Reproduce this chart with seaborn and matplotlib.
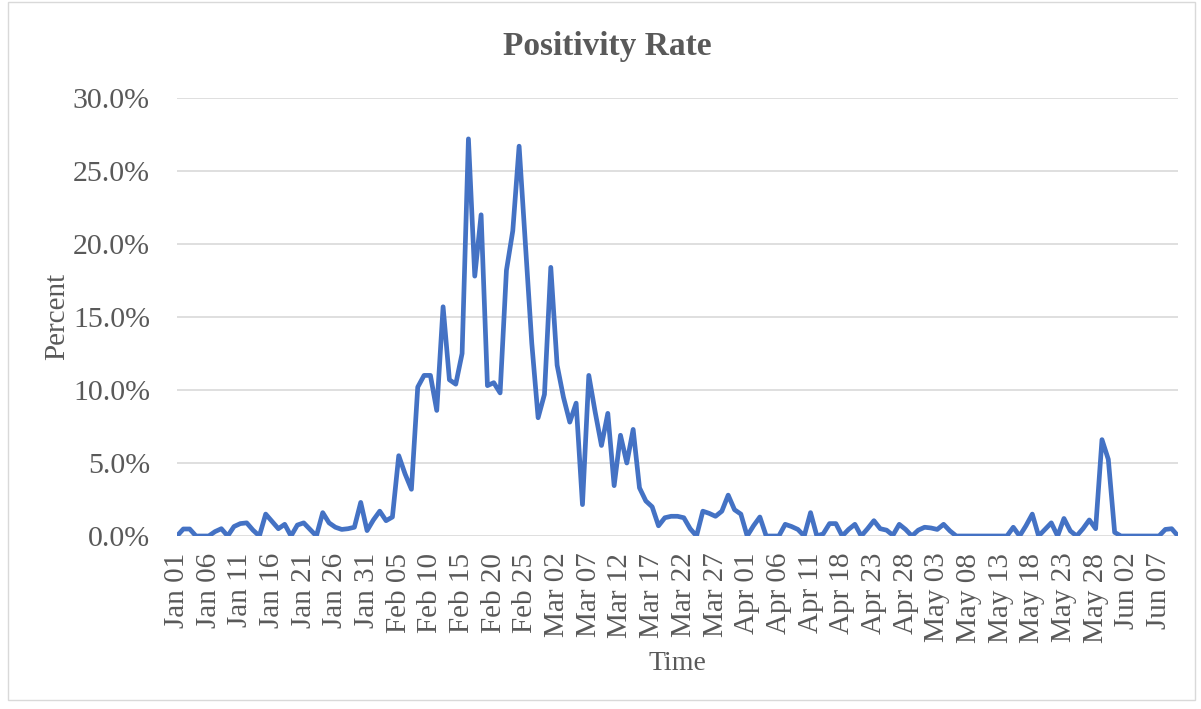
import pandas as pd
import numpy as np
import matplotlib
matplotlib.use("Agg")
import matplotlib.pyplot as plt
import seaborn as sns
from matplotlib.patches import Rectangle
from matplotlib.ticker import FuncFormatter

# daily positivity rate (%), Jan 01 - Jun 10
rate = [
    0, 0.48, 0.48, 0, 0, 0, 0.3, 0.5, 0, 0.65,
    0.85, 0.9, 0.4, 0, 1.5, 1.0, 0.5, 0.8, 0, 0.75,
    0.9, 0.45, 0, 1.6, 0.9, 0.6, 0.45, 0.5, 0.6, 2.3,
    0.37, 1.1, 1.7, 1.05, 1.3, 5.5, 4.25, 3.2, 10.2, 11.0,
    11.0, 8.6, 15.7, 10.7, 10.4, 12.5, 27.2, 17.8, 22.0, 10.3,
    10.5, 9.8, 18.2, 20.9, 26.7, 20.0, 13.2, 8.1, 9.7, 18.4,
    11.7, 9.5, 7.8, 9.1, 2.15, 11.0, 8.5, 6.2, 8.4, 3.45,
    6.9, 5.0, 7.3, 3.3, 2.4, 2.0, 0.7, 1.25, 1.35, 1.35,
    1.25, 0.5, 0, 1.7, 1.55, 1.35, 1.7, 2.8, 1.8, 1.5,
    0, 0.7, 1.3, 0, 0, 0, 0.8, 0.65, 0.45, 0,
    1.6, 0, 0.15, 0.85, 0.85, 0, 0.45, 0.8, 0, 0.5,
    1.05, 0.5, 0.4, 0.05, 0.8, 0.45, 0, 0.4, 0.6, 0.55,
    0.45, 0.8, 0.35, 0, 0, 0, 0, 0, 0, 0,
    0, 0, 0.6, 0, 0.7, 1.5, 0, 0.45, 0.9, 0,
    1.2, 0.35, 0, 0.5, 1.1, 0.5, 6.6, 5.25, 0.25, 0,
    0, 0, 0, 0, 0, 0, 0.45, 0.5, 0,
]

# reporting days (two days missing after Apr 11)
dates = pd.date_range("2021-01-01", "2021-06-10")
dates = dates.drop(pd.to_datetime(["2021-04-12", "2021-04-13"]))
labels = [d.strftime("%b %d") for d in dates]

df = pd.DataFrame({"idx": np.arange(len(rate)), "rate": rate, "date": labels})

sns.set_style("white")
plt.rcParams["font.family"] = ["Liberation Serif", "DejaVu Serif"]
txt = "#595959"

fig = plt.figure(figsize=(12.01, 7.09), dpi=100)
ax = fig.add_axes([177 / 1201, 1 - 536 / 709, 1001 / 1201, 438 / 709])

sns.lineplot(data=df, x="idx", y="rate", ax=ax, color="#4472C4", linewidth=3.4)

ax.set_xlim(0, len(rate) - 1)
ax.set_ylim(0, 30)
ax.set_yticks(np.arange(0, 30.1, 5))
ax.yaxis.set_major_formatter(FuncFormatter(lambda v, p: f"{v:.1f}%"))
ax.grid(axis="y", color="#D9D9D9", linewidth=1.2)
ax.set_axisbelow(True)

ticks = df["idx"][::5]
ax.set_xticks(ticks)
ax.set_xticklabels(df["date"][::5], rotation=90, va="top", ha="center")

ax.tick_params(axis="y", length=0, pad=19.5, labelsize=21.5, labelcolor=txt)
ax.tick_params(axis="x", length=0, pad=12, labelsize=21, labelcolor=txt)
for s in ax.spines.values():
    s.set_visible(False)

ax.set_xlabel("")
ax.set_ylabel("")
fig.text(57 / 1201, 1 - 316 / 709, "Percent", rotation=90, ha="center", va="center",
         fontsize=21, color=txt)
fig.text(677 / 1201, 1 - 664 / 709, "Time", ha="center", va="center", fontsize=20, color=txt)
fig.text(607 / 1201, 1 - 47 / 709, "Positivity Rate", ha="center", va="center",
         fontsize=24, fontweight="bold", color=txt)

fig.patches.append(Rectangle((8 / 1201, 1 - 700 / 709), 1187 / 1201, 698 / 709,
                             transform=fig.transFigure, fill=False,
                             edgecolor="#D9D9D9", linewidth=1))

fig.savefig("out.png", dpi=100)
